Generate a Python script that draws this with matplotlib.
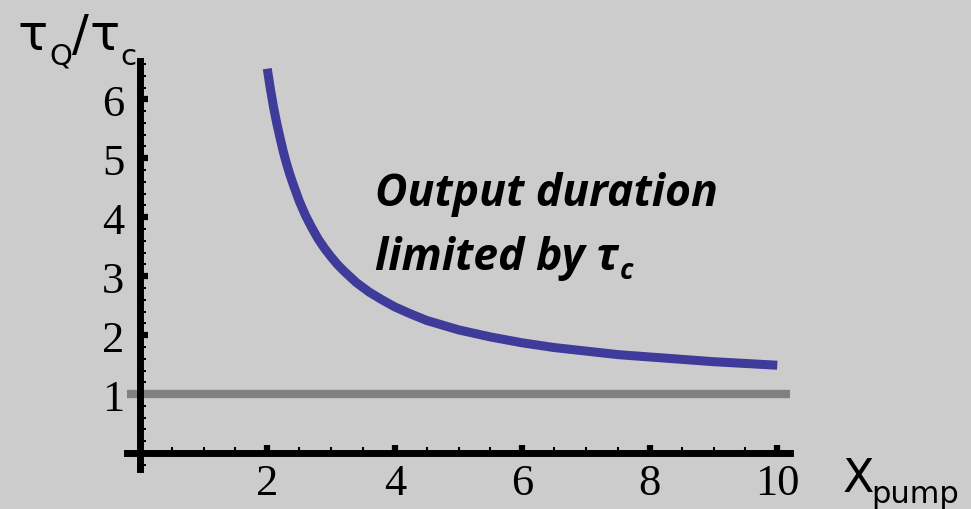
import matplotlib.pyplot as plt
from matplotlib.ticker import MultipleLocator
from matplotlib.transforms import IdentityTransform

# values
x_pump = [2, 2.05, 2.1, 2.15, 2.2, 2.25, 2.3, 2.35, 2.4, 2.5, 2.6, 2.7, 2.8, 2.9,
          3, 3.1, 3.2, 3.4, 3.6, 3.8, 4, 4.25, 4.5, 4.75, 5, 5.25, 5.5, 5.75,
          6, 6.5, 7, 7.5, 8, 8.5, 9, 9.5, 10]
tau_ratio = [6.52, 6.17, 5.86, 5.59, 5.35, 5.12, 4.92, 4.74, 4.58, 4.28, 4.03, 3.82,
             3.63, 3.47, 3.33, 3.20, 3.09, 2.89, 2.73, 2.60, 2.48, 2.36, 2.25, 2.17,
             2.09, 2.03, 1.97, 1.92, 1.87, 1.79, 1.73, 1.67, 1.63, 1.59, 1.55, 1.52,
             1.49]
limit_level = 1
x_ticks = [2, 4, 6, 8, 10]
y_ticks = [1, 2, 3, 4, 5, 6]

bg = '#cccccc'
W, H = 971, 510
fig = plt.figure(figsize=(W / 100, H / 100), dpi=100, facecolor=bg)
ax = fig.add_axes([127 / W, 1 - 470 / H, 663 / W, 408 / H])
ax.set_facecolor(bg)

ax.axhline(limit_level, color='#808080', lw=6, zorder=2)
ax.plot(x_pump, tau_ratio, color='#3f3b9a', lw=6.5, solid_capstyle='butt',
        solid_joinstyle='round', zorder=3)

ax.set_xlim(-0.2, 10.2)
ax.set_ylim(-0.27, 6.65)

# axes crossing at the origin
for side in ['top', 'right']:
    ax.spines[side].set_visible(False)
for side in ['left', 'bottom']:
    ax.spines[side].set_position(('data', 0))
    ax.spines[side].set_linewidth(5)
    ax.spines[side].set_zorder(4)

ax.set_xticks(x_ticks)
ax.set_yticks(y_ticks)
ax.xaxis.set_minor_locator(MultipleLocator(0.5))
ax.yaxis.set_minor_locator(MultipleLocator(0.2))
ax.tick_params(which='major', direction='in', length=6, width=4.5)
ax.tick_params(which='minor', direction='in', length=4, width=1.5)
ax.tick_params(axis='y', which='major', pad=11)
ax.tick_params(axis='x', which='major', pad=7)
for lab in ax.get_xticklabels() + ax.get_yticklabels():
    lab.set_family('Liberation Serif')
    lab.set_fontsize(32)

# axis labels, pieces placed in pixels (y measured from the top)
px = IdentityTransform()
def piece(x, y, s, size):
    fig.text(x, H - y, s, transform=px, fontsize=size, family='DejaVu Sans',
             ha='left', va='baseline')

piece(18, 50, 'τ', 36)
piece(49, 65, 'Q', 21)
piece(72, 50, '/', 36)
piece(89, 50, 'τ', 36)
piece(120, 65, 'c', 21)
piece(843, 492, 'X', 33)
piece(871, 503, 'pump', 22)

# annotation
note_font = dict(family=['Open Sans', 'DejaVu Sans'], weight='bold', style='italic')
ax.text(3.69, 4.20, 'Output duration', ha='left', va='baseline', fontsize=32, **note_font)
t2 = ax.text(3.69, 3.12, 'limited by τ', ha='left', va='baseline', fontsize=32, **note_font)
fig.canvas.draw()
bb = t2.get_window_extent()
fig.text(bb.x1 + 1, bb.y0 + 2, 'c', transform=px, ha='left', va='baseline',
         fontsize=20, **note_font)

plt.savefig('out.png', dpi=100, facecolor=bg)
